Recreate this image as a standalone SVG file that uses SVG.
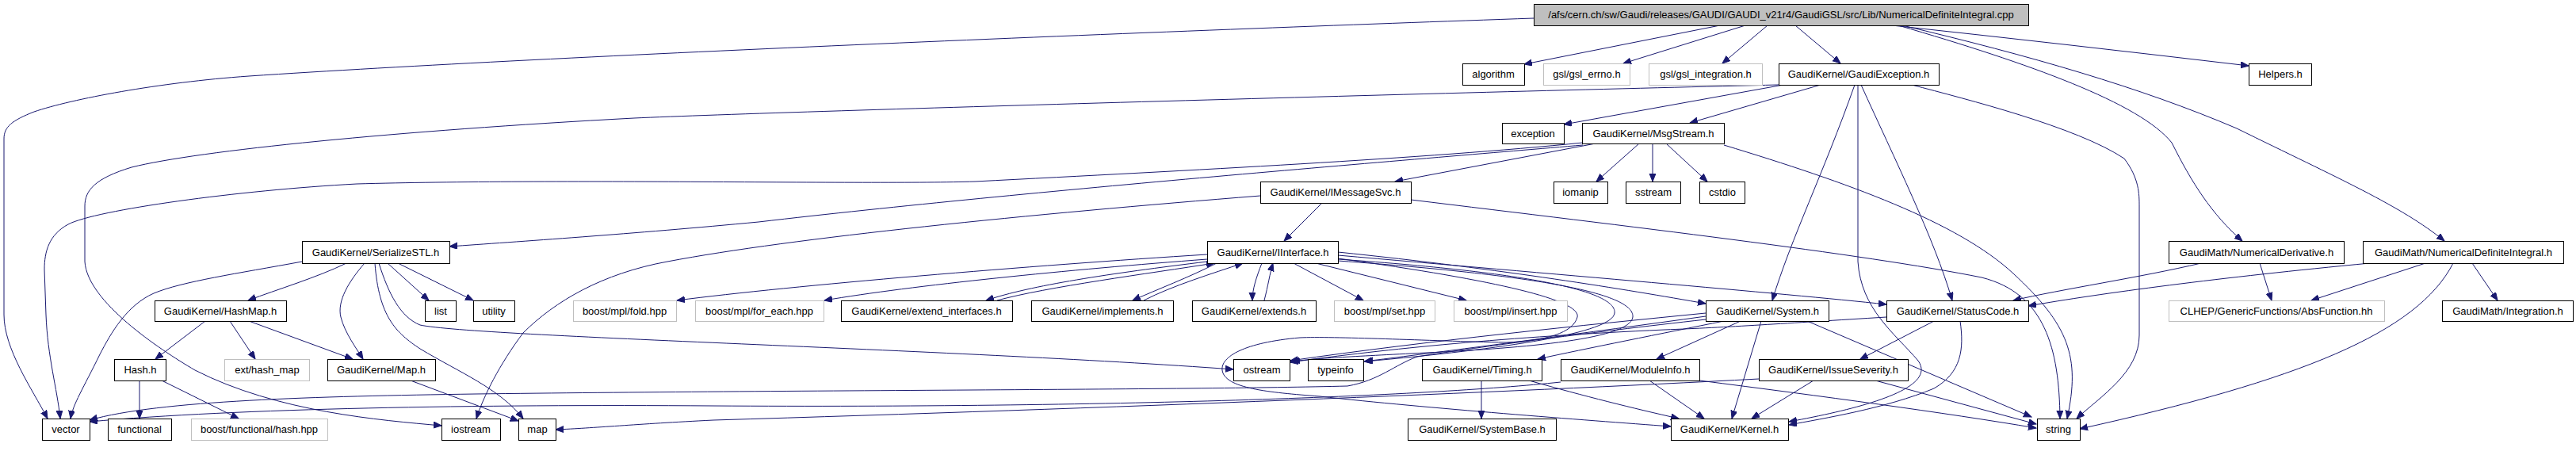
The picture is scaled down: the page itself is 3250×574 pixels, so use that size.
<svg xmlns="http://www.w3.org/2000/svg" width="3250" height="574" viewBox="0 0 3250 574">
<style>
.n rect{fill:#fff;stroke:#000;stroke-width:1}
.g rect{fill:#fff;stroke:#bfbfbf;stroke-width:1}
.r rect{fill:#bfbfbf;stroke:#000;stroke-width:1}
text{font-family:"Liberation Sans",Arial,sans-serif;font-size:13px;text-anchor:middle;fill:#000}
#edges path{fill:none;stroke:#191970;stroke-width:1;marker-end:url(#a)}
</style>
<defs>
<marker id="a" markerUnits="userSpaceOnUse" markerWidth="12" markerHeight="10" refX="10" refY="4" orient="auto">
<path d="M0,0 L10,4 L0,8 z" fill="#191970" stroke="#191970" stroke-width="1"/>
</marker>
</defs>
<rect width="3250" height="574" fill="#fff"/>
<g id="edges">
<path d="M1935,23 C1500,38 700,70 314,96 C200,104 90,125 43,141 C15,152 5,160 5,175 L5,397 C5,440 40,490 60,528"/>
<path d="M2170,32 L1923,81"/>
<path d="M2202,32 L2048,80"/>
<path d="M2230,32 L2173,80"/>
<path d="M2265,32 L2322,80"/>
<path d="M2387,32 Q2600,55 2837,83"/>
<path d="M2395,32 C2560,80 2700,130 2740,180 C2765,230 2790,270 2829,304"/>
<path d="M2400,32 C2560,70 2700,110 2822,162 C2950,225 3030,260 3084,304"/>
<path d="M2244,107 C1900,115 1000,140 800,149 C500,165 250,190 166,211 C120,225 107,240 107,260 L107,330 C110,380 200,440 246,467 C350,520 480,530 557,537"/>
<path d="M2250,107 L1973,157"/>
<path d="M2297,107 L2132,155"/>
<path d="M2340,107 C2300,220 2260,300 2236,379"/>
<path d="M2344,107 L2344,330 C2348,390 2390,420 2420,455 C2445,490 2350,515 2257,532"/>
<path d="M2348,107 C2390,200 2440,300 2463,379"/>
<path d="M2412,107 C2480,125 2620,160 2680,200 C2699,225 2699,245 2699,260 L2699,423 C2699,470 2650,500 2620,528"/>
<path d="M2013,181 L1760,229"/>
<path d="M2068,181 L2014,229"/>
<path d="M2085,181 L2085,229"/>
<path d="M2102,181 L2154,229"/>
<path d="M2175,183 C2330,230 2470,280 2540,345 C2610,410 2625,450 2608,528"/>
<path d="M1997,180 C1800,200 1500,215 1230,229 C1100,233 700,225 450,232 C300,240 120,265 86,283 C62,296 56,317 56,340 L58,397 C60,450 72,490 76,528"/>
<path d="M1997,183 C1800,200 1300,240 957,280 C800,295 650,305 567,311"/>
<path d="M1668,256 L1620,304"/>
<path d="M1590,247 C1300,270 1000,300 842,330 C760,345 700,380 660,420 C630,460 610,500 601,528"/>
<path d="M1780,252 C2050,285 2350,320 2500,350 C2580,370 2598,440 2599,528"/>
<path d="M381,330 C300,345 230,355 194,370 C160,385 140,420 126,447 C105,490 92,510 89,528"/>
<path d="M437,332 C400,350 350,365 313,379"/>
<path d="M460,332 C440,355 425,380 430,400 C435,420 450,440 458,453"/>
<path d="M489,332 L541,379"/>
<path d="M502,332 L597,379"/>
<path d="M473,332 C478,400 500,420 530,440 C580,470 630,490 660,528"/>
<path d="M478,332 C490,370 505,400 530,410 C600,425 1200,440 1556,466"/>
<path d="M259,405 L196,453"/>
<path d="M290,405 L322,453"/>
<path d="M314,405 L445,453"/>
<path d="M176,480 L176,528"/>
<path d="M204,480 L301,528"/>
<path d="M518,480 L654,531"/>
<path d="M1523,321 C1300,335 1000,360 854,379"/>
<path d="M1523,327 C1350,340 1150,360 1040,379"/>
<path d="M1523,330 C1400,345 1300,360 1244,379"/>
<path d="M1258,379 C1320,362 1450,345 1532,332"/>
<path d="M1535,332 C1500,350 1460,365 1429,379"/>
<path d="M1443,379 C1480,360 1530,345 1568,332"/>
<path d="M1592,332 C1585,350 1580,365 1580,379"/>
<path d="M1595,379 C1600,360 1602,345 1606,332"/>
<path d="M1632,332 L1720,379"/>
<path d="M1660,332 L1850,379"/>
<path d="M1688,318 C1900,340 2050,365 2152,383"/>
<path d="M1688,322 C1950,345 2250,370 2380,384"/>
<path d="M1688,326 C1900,355 1995,380 1990,400 C1985,420 1950,430 1900,432 C1800,430 1680,424 1640,426 C1570,432 1540,450 1542,467 C1545,490 1600,495 1665,500 C1800,515 2000,530 2108,538"/>
<path d="M1688,327 C1950,345 2040,370 2037,395 C2034,420 1900,440 1722,456"/>
<path d="M1688,329 C1980,350 2062,375 2060,400 C2057,430 1900,440 1800,445 C1700,450 1660,452 1630,456"/>
<path d="M2175,405 C2100,420 2000,440 1940,453"/>
<path d="M2196,405 L2090,453"/>
<path d="M2222,405 L2185,528"/>
<path d="M2280,405 L2563,526"/>
<path d="M2152,395 C2000,410 1800,430 1628,455"/>
<path d="M2152,399 C2000,420 1850,440 1721,456"/>
<path d="M2152,403 C2000,420 1850,440 1788,450 C1760,460 1740,480 1700,487 C1500,492 1000,492 600,497 C400,500 200,505 113,530"/>
<path d="M2440,405 L2347,453"/>
<path d="M2473,405 C2478,440 2475,470 2440,490 C2380,515 2300,528 2257,536"/>
<path d="M2380,400 C2250,408 2180,413 2100,416 C1900,425 1750,440 1628,457"/>
<path d="M1869,480 L1869,528"/>
<path d="M1929,480 C2000,500 2060,515 2118,528"/>
<path d="M2081,480 L2150,528"/>
<path d="M2144,480 C2300,500 2450,520 2569,540"/>
<path d="M1969,482 C1800,500 1400,515 900,512 C600,510 300,515 113,532"/>
<path d="M2288,480 L2210,528"/>
<path d="M2366,480 L2569,535"/>
<path d="M2219,478 C1900,495 1400,515 900,530 C800,535 750,540 701,542"/>
<path d="M2777,332 C2700,350 2600,365 2540,379"/>
<path d="M2851,332 L2866,379"/>
<path d="M2990,332 C2800,350 2650,370 2559,386"/>
<path d="M3060,332 L2916,379"/>
<path d="M3119,332 L3151,379"/>
<path d="M3095,332 C3050,420 2900,480 2624,541"/>
</g>
<g id="root" class="r"><rect x="1935.5" y="5.5" width="624" height="27"/><text x="2247" y="23">/afs/cern.ch/sw/Gaudi/releases/GAUDI/GAUDI_v21r4/GaudiGSL/src/Lib/NumericalDefiniteIntegral.cpp</text></g>
<g id="algorithm" class="n"><rect x="1845.5" y="80.5" width="78" height="27"/><text x="1884" y="98">algorithm</text></g>
<g id="gsl_errno" class="g"><rect x="1947.5" y="80.5" width="109" height="27"/><text x="2002" y="98">gsl/gsl_errno.h</text></g>
<g id="gsl_integration" class="g"><rect x="2080.5" y="80.5" width="143" height="27"/><text x="2152" y="98">gsl/gsl_integration.h</text></g>
<g id="GaudiException" class="n"><rect x="2244.5" y="80.5" width="202" height="27"/><text x="2345" y="98">GaudiKernel/GaudiException.h</text></g>
<g id="Helpers" class="n"><rect x="2837.5" y="80.5" width="79" height="27"/><text x="2877" y="98">Helpers.h</text></g>
<g id="exception" class="n"><rect x="1895.5" y="155.5" width="78" height="26"/><text x="1934" y="173">exception</text></g>
<g id="MsgStream" class="n"><rect x="1996.5" y="155.5" width="179" height="26"/><text x="2086" y="173">GaudiKernel/MsgStream.h</text></g>
<g id="IMessageSvc" class="n"><rect x="1590.5" y="229.5" width="190" height="27"/><text x="1685" y="247">GaudiKernel/IMessageSvc.h</text></g>
<g id="iomanip" class="n"><rect x="1960.5" y="229.5" width="68" height="27"/><text x="1994" y="247">iomanip</text></g>
<g id="sstream" class="n"><rect x="2051.5" y="229.5" width="69" height="27"/><text x="2086" y="247">sstream</text></g>
<g id="cstdio" class="n"><rect x="2144.5" y="229.5" width="57" height="27"/><text x="2173" y="247">cstdio</text></g>
<g id="SerializeSTL" class="n"><rect x="381.5" y="304.5" width="186" height="28"/><text x="474" y="323">GaudiKernel/SerializeSTL.h</text></g>
<g id="IInterface" class="n"><rect x="1523.5" y="304.5" width="165" height="28"/><text x="1606" y="323">GaudiKernel/IInterface.h</text></g>
<g id="NumericalDerivative" class="n"><rect x="2736.5" y="304.5" width="221" height="28"/><text x="2847" y="323">GaudiMath/NumericalDerivative.h</text></g>
<g id="NumericalDefiniteIntegral" class="n"><rect x="2981.5" y="304.5" width="253" height="28"/><text x="3108" y="323">GaudiMath/NumericalDefiniteIntegral.h</text></g>
<g id="HashMap" class="n"><rect x="195.5" y="379.5" width="166" height="26"/><text x="278" y="397">GaudiKernel/HashMap.h</text></g>
<g id="list" class="n"><rect x="536.5" y="379.5" width="39" height="26"/><text x="556" y="397">list</text></g>
<g id="utility" class="n"><rect x="597.5" y="379.5" width="52" height="26"/><text x="623" y="397">utility</text></g>
<g id="fold" class="g"><rect x="723.5" y="379.5" width="130" height="26"/><text x="788" y="397">boost/mpl/fold.hpp</text></g>
<g id="for_each" class="g"><rect x="877.5" y="379.5" width="162" height="26"/><text x="958" y="397">boost/mpl/for_each.hpp</text></g>
<g id="extend_interfaces" class="n"><rect x="1061.5" y="379.5" width="216" height="26"/><text x="1169" y="397">GaudiKernel/extend_interfaces.h</text></g>
<g id="implements" class="n"><rect x="1301.5" y="379.5" width="179" height="26"/><text x="1391" y="397">GaudiKernel/implements.h</text></g>
<g id="extends" class="n"><rect x="1504.5" y="379.5" width="156" height="26"/><text x="1582" y="397">GaudiKernel/extends.h</text></g>
<g id="set" class="g"><rect x="1683.5" y="379.5" width="127" height="26"/><text x="1747" y="397">boost/mpl/set.hpp</text></g>
<g id="insert" class="g"><rect x="1834.5" y="379.5" width="143" height="26"/><text x="1906" y="397">boost/mpl/insert.hpp</text></g>
<g id="System" class="n"><rect x="2152.5" y="379.5" width="155" height="26"/><text x="2230" y="397">GaudiKernel/System.h</text></g>
<g id="StatusCode" class="n"><rect x="2380.5" y="379.5" width="179" height="26"/><text x="2470" y="397">GaudiKernel/StatusCode.h</text></g>
<g id="AbsFunction" class="g"><rect x="2736.5" y="379.5" width="272" height="26"/><text x="2872" y="397">CLHEP/GenericFunctions/AbsFunction.hh</text></g>
<g id="Integration" class="n"><rect x="3081.5" y="379.5" width="165" height="26"/><text x="3164" y="397">GaudiMath/Integration.h</text></g>
<g id="Hash" class="n"><rect x="144.5" y="453.5" width="65" height="27"/><text x="177" y="471">Hash.h</text></g>
<g id="ext_hash_map" class="g"><rect x="283.5" y="453.5" width="107" height="27"/><text x="337" y="471">ext/hash_map</text></g>
<g id="Map" class="n"><rect x="413.5" y="453.5" width="136" height="27"/><text x="481" y="471">GaudiKernel/Map.h</text></g>
<g id="ostream" class="n"><rect x="1556.5" y="453.5" width="71" height="27"/><text x="1592" y="471">ostream</text></g>
<g id="typeinfo" class="n"><rect x="1650.5" y="453.5" width="70" height="27"/><text x="1685" y="471">typeinfo</text></g>
<g id="Timing" class="n"><rect x="1794.5" y="453.5" width="151" height="27"/><text x="1870" y="471">GaudiKernel/Timing.h</text></g>
<g id="ModuleInfo" class="n"><rect x="1969.5" y="453.5" width="175" height="27"/><text x="2057" y="471">GaudiKernel/ModuleInfo.h</text></g>
<g id="IssueSeverity" class="n"><rect x="2219.5" y="453.5" width="188" height="27"/><text x="2313" y="471">GaudiKernel/IssueSeverity.h</text></g>
<g id="vector" class="n"><rect x="53.5" y="528.5" width="60" height="27"/><text x="83" y="546">vector</text></g>
<g id="functional" class="n"><rect x="136.5" y="528.5" width="80" height="27"/><text x="176" y="546">functional</text></g>
<g id="hash_hpp" class="g"><rect x="241.5" y="528.5" width="172" height="27"/><text x="327" y="546">boost/functional/hash.hpp</text></g>
<g id="iostream" class="n"><rect x="557.5" y="528.5" width="74" height="27"/><text x="594" y="546">iostream</text></g>
<g id="map" class="n"><rect x="654.5" y="528.5" width="47" height="27"/><text x="678" y="546">map</text></g>
<g id="SystemBase" class="n"><rect x="1776.5" y="528.5" width="187" height="27"/><text x="1870" y="546">GaudiKernel/SystemBase.h</text></g>
<g id="Kernel" class="n"><rect x="2108.5" y="528.5" width="148" height="27"/><text x="2182" y="546">GaudiKernel/Kernel.h</text></g>
<g id="string" class="n"><rect x="2570.5" y="528.5" width="54" height="27"/><text x="2597" y="546">string</text></g>
</svg>
